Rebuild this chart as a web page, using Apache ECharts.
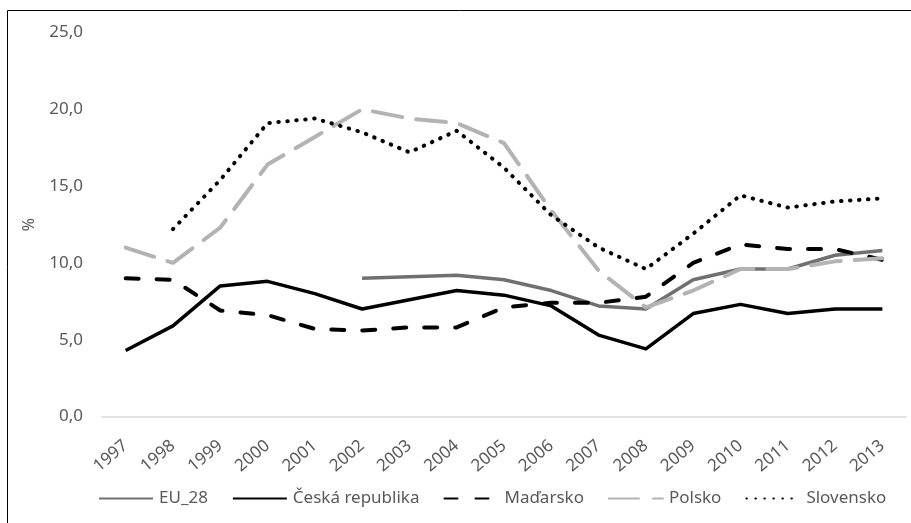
<!DOCTYPE html>
<html>
<head>
<meta charset="utf-8">
<script src="https://cdn.jsdelivr.net/npm/echarts@6/dist/echarts.min.js"></script>
<style>html,body{margin:0;padding:0;background:#fff}#c{width:911px;height:523px}</style>
</head>
<body>
<div id="c"></div>
<script>
const years = ['1997','1998','1999','2000','2001','2002','2003','2004','2005','2006','2007','2008','2009','2010','2011','2012','2013'];
const eu28 = [null,null,null,null,null,9.0,9.1,9.2,8.9,8.2,7.2,7.0,8.9,9.6,9.6,10.5,10.8];
const cesko = [4.3,5.9,8.5,8.8,8.0,7.0,7.6,8.2,7.9,7.2,5.3,4.4,6.7,7.3,6.7,7.0,7.0];
const madarsko = [9.0,8.9,6.9,6.6,5.7,5.6,5.8,5.8,7.1,7.4,7.4,7.8,10.0,11.2,10.9,10.9,10.2];
const polsko = [11.0,10.0,12.3,16.4,18.2,20.0,19.4,19.1,17.8,13.4,9.5,7.1,8.2,9.6,9.6,10.1,10.3];
const slovensko = [null,12.2,15.4,19.1,19.4,18.5,17.2,18.6,16.2,13.1,11.0,9.6,11.9,14.4,13.6,14.0,14.2];
const yTicks = [0,5,10,15,20,25];

const font = 'Noto Sans';
const txt = '#595959';
const chart = echarts.init(document.getElementById('c'));
function ser(name, data, color, width, type, cap) {
  return {
    name, type: 'line', data, symbol: 'none', connectNulls: false, animation: false,
    lineStyle: { color, width, type, cap: cap || 'butt', join: 'round' },
    itemStyle: { color }
  };
}
chart.setOption({
  animation: false,
  textStyle: { fontFamily: font },
  grid: { left: 102, right: 5, top: 32.5, bottom: 106.5 },
  graphic: [{
    type: 'rect', silent: true,
    shape: { x: 7.5, y: 10.5, width: 1000, height: 1000 },
    style: { fill: 'none', stroke: '#000', lineWidth: 1 }
  }],
  xAxis: {
    type: 'category', data: years, boundaryGap: true,
    axisLine: { lineStyle: { color: '#d9d9d9', width: 1.5 } },
    axisTick: { show: false },
    axisLabel: { rotate: 40, color: txt, fontSize: 17, fontFamily: font, margin: 27, interval: 0 }
  },
  yAxis: {
    type: 'value', min: 0, max: 25, interval: 5,
    name: '%', nameLocation: 'middle', nameGap: 65, nameRotate: 90,
    nameTextStyle: { color: txt, fontSize: 16, fontFamily: font },
    axisLine: { show: false }, axisTick: { show: false }, splitLine: { show: false },
    axisLabel: { color: txt, fontSize: 17, fontFamily: font, margin: 19,
      formatter: v => yTicks.includes(v) ? v.toFixed(1).replace('.', ',') : '' }
  },
  legend: {
    left: 93, top: 485, itemWidth: 54, itemHeight: 14, itemGap: 24,
    itemStyle: { opacity: 0 },
    textStyle: { color: txt, fontSize: 17, fontFamily: font, padding: [0,0,0,1] },
    data: ['EU_28','Česká republika','Maďarsko','Polsko','Slovensko']
  },
  series: [
    ser('EU_28', eu28, '#707070', 3.5, 'solid'),
    ser('Česká republika', cesko, '#000000', 3.5, 'solid'),
    ser('Maďarsko', madarsko, '#000000', 4, [13, 18], 'round'),
    ser('Polsko', polsko, '#b3b3b3', 4, [30, 14], 'round'),
    ser('Slovensko', slovensko, '#000000', 4, [0.5, 8.5], 'round')
  ]
});
</script>
</body>
</html>
